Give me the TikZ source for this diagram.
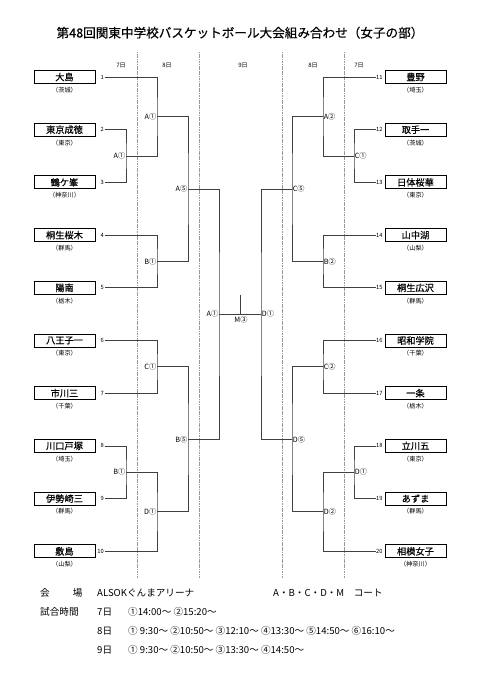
\documentclass[tikz,border=0pt]{standalone}
\usepackage{fontspec}
\setmainfont{Noto Sans CJK JP}
\newfontfamily\heavyjp{Noto Sans CJK JP}[FakeBold=0.45]
\begin{document}
\begin{tikzpicture}[x=1pt,y=-1pt,
  team/.style={draw=black,line width=0.9pt,fill=white,minimum width=61pt,minimum height=13pt,inner sep=0pt,font=\heavyjp\fontsize{9.2}{10}\selectfont},
  pref/.style={font=\fontsize{6.2}{7}\selectfont,inner sep=0pt},
  num/.style={font=\fontsize{5.8}{6}\selectfont,inner sep=0.5pt},
  br/.style={draw=black!75,line width=0.8pt},
  lbl/.style={font=\fontsize{7.2}{8}\selectfont,inner sep=0.6pt},
  divline/.style={draw=black!40,line width=0.9pt,dash pattern=on 1.2pt off 0.5pt},
  day/.style={font=\fontsize{6}{7}\selectfont,inner sep=0pt},
  info/.style={font=\fontsize{9.6}{11}\selectfont,inner sep=0pt,anchor=west},
  ttl/.style={font=\heavyjp\fontsize{12.6}{14}\selectfont,inner sep=0pt}]
\useasboundingbox (0,0) rectangle (481,680);
% title
\node[ttl] (title) at (240,32.7) {第48回関東中学校バスケットボール大会組み合わせ（女子の部）};
% dividers
\foreach \k/\xx in {1/137,2/199,3/282,4/344}{
  \coordinate (dt\k) at (\xx,52);
  \coordinate (db\k) at (\xx,578);
  \draw[divline] (dt\k) -- (db\k);
}
% day labels
\node[day] (day1) at (121,65) {7日};
\node[day] (day2) at (167,65) {8日};
\node[day] (day3) at (243,65) {9日};
\node[day] (day4) at (313,65) {8日};
\node[day] (day5) at (359,65) {7日};
% left teams
\foreach \i/\nm/\pf in {1/大島/茨城,2/東京成徳/東京,3/鶴ケ峯/神奈川,4/桐生桜木/群馬,5/陽南/栃木,6/八王子一/東京,7/市川三/千葉,8/川口戸塚/埼玉,9/伊勢崎三/群馬,10/敷島/山梨}{
  \pgfmathsetmacro\yy{77+(\i-1)*52.7}
  \node[team] (t\i) at (64.5,\yy) {\nm};
  \node[pref] (p\i) at (64.5,\yy+13) {（\pf）};
  \node[num,anchor=east] (n\i) at (104.5,\yy) {\i};
}
% right teams
\foreach \i/\nm/\pf in {11/豊野/埼玉,12/取手一/茨城,13/日体桜華/東京,14/山中湖/山梨,15/桐生広沢/群馬,16/昭和学院/千葉,17/一条/栃木,18/立川五/東京,19/あずま/群馬,20/相模女子/神奈川}{
  \pgfmathsetmacro\yy{77+(\i-11)*52.7}
  \node[team] (t\i) at (415.5,\yy) {\nm};
  \node[pref] (p\i) at (415.5,\yy+13) {（\pf）};
  \node[num,anchor=west] (n\i) at (375.5,\yy) {\i};
}
% left match points
\coordinate (a) at (126,156.05);
\coordinate (b) at (157,116.5);
\coordinate (c) at (157,261.45);
\coordinate (d) at (188,189);
\coordinate (e) at (157,366.85);
\coordinate (f) at (126,472.25);
\coordinate (g) at (157,511.8);
\coordinate (h) at (188,439.3);
\coordinate (i) at (219,314.15);
% right match points
\coordinate (ra) at (354,156.05);
\coordinate (rb) at (323,116.5);
\coordinate (rc) at (323,261.45);
\coordinate (rd) at (292,189);
\coordinate (re) at (323,366.85);
\coordinate (rf) at (354,472.25);
\coordinate (rg) at (323,511.8);
\coordinate (rh) at (292,439.3);
\coordinate (ri) at (261,314.15);
% left bracket
\draw[br] (n2.east) -| (a) |- (n3.east);
\draw[br] (n1.east) -| (b) |- (a);
\draw[br] (n4.east) -| (c) |- (n5.east);
\draw[br] (b) -| (d) |- (c);
\draw[br] (n6.east) -| (e) |- (n7.east);
\draw[br] (n8.east) -| (f) |- (n9.east);
\draw[br] (f) -| (g) |- (n10.east);
\draw[br] (e) -| (h) |- (g);
\draw[br] (d) -| (i) |- (h);
% right bracket
\draw[br] (n12.west) -| (ra) |- (n13.west);
\draw[br] (n11.west) -| (rb) |- (ra);
\draw[br] (n14.west) -| (rc) |- (n15.west);
\draw[br] (rb) -| (rd) |- (rc);
\draw[br] (n16.west) -| (re) |- (n17.west);
\draw[br] (n18.west) -| (rf) |- (n19.west);
\draw[br] (rf) -| (rg) |- (n20.west);
\draw[br] (re) -| (rh) |- (rg);
\draw[br] (rd) -| (ri) |- (rh);
% final
\draw[br] (i) -- (ri);
\coordinate (mt) at (240,295);
\coordinate (mb) at (240,314.15);
\draw[br] (mt) -- (mb);
\node[lbl,anchor=north] (lm) at (241,316) {M③};
% left labels
\node[lbl,anchor=east] (la) at (a) {A①};
\node[lbl,anchor=east] (lb) at (b) {A①};
\node[lbl,anchor=east] (lc) at (c) {B①};
\node[lbl,anchor=east] (ld) at (d) {A⑤};
\node[lbl,anchor=east] (le) at (e) {C①};
\node[lbl,anchor=east] (lf) at (f) {B①};
\node[lbl,anchor=east] (lg) at (g) {D①};
\node[lbl,anchor=east] (lh) at (h) {B⑤};
\node[lbl,anchor=east] (li) at (i) {A①};
% right labels
\node[lbl,anchor=west] (lra) at (ra) {C①};
\node[lbl,anchor=west] (lrb) at (rb) {A②};
\node[lbl,anchor=west] (lrc) at (rc) {B②};
\node[lbl,anchor=west] (lrd) at (rd) {C⑤};
\node[lbl,anchor=west] (lre) at (re) {C②};
\node[lbl,anchor=west] (lrf) at (rf) {D①};
\node[lbl,anchor=west] (lrg) at (rg) {D②};
\node[lbl,anchor=west] (lrh) at (rh) {D⑤};
\node[lbl,anchor=west] (lri) at (ri) {D①};
% info
\node[info] (v1) at (40,593) {会\hspace{23pt}場};
\node[info] (v2) at (97,593) {ALSOKぐんまアリーナ};
\node[info] (v3) at (273,593) {A・B・C・D・M　コート};
\node[info] (s1) at (40,612) {試合時間};
\node[info] (s2) at (97,612) {7日};
\node[info] (s3) at (128,612) {①14:00～ ②15:20～};
\node[info] (s4) at (97,631) {8日};
\node[info] (s5) at (128,631) {① 9:30～ ②10:50～ ③12:10～ ④13:30～ ⑤14:50～ ⑥16:10～};
\node[info] (s6) at (97,650) {9日};
\node[info] (s7) at (128,650) {① 9:30～ ②10:50～ ③13:30～ ④14:50～};
\end{tikzpicture}
\end{document}
